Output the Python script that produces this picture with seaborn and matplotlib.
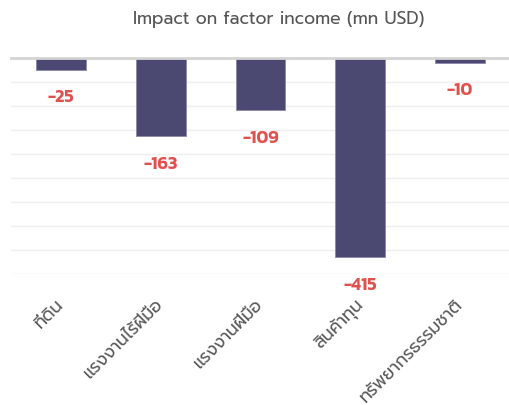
import matplotlib
matplotlib.use("Agg")
import matplotlib.pyplot as plt
import seaborn as sns
import pandas as pd

# ข้อมูล
factors = ["ที่ดิน", "แรงงานไร้ฝีมือ", "แรงงานฝีมือ", "สินค้าทุน", "ทรัพยากรธรรมชาติ"]
impact = [-25, -163, -109, -415, -10]
gridlines = [0, -50, -100, -150, -200, -250, -300, -350, -400, -450]

df = pd.DataFrame({"factor": factors, "impact": impact})

sns.set_theme(style="white")
plt.rcParams['font.family'] = ['Kanit', 'DejaVu Sans']

fig = plt.figure(figsize=(5.1, 4.05), dpi=100)
ax = fig.add_axes([11 / 510, 1 - 274 / 405, 499 / 510, 216 / 405])

sns.barplot(data=df, x="factor", y="impact", color="#4b4872", width=0.5,
            saturation=1, edgecolor="#8a88a8", linewidth=0.6, ax=ax, zorder=3)

ax.set_xlim(-0.5, 4.5)
ax.set_ylim(-450, 0)
ax.set_yticks(gridlines)
ax.set_yticklabels([])
ax.tick_params(axis="y", length=0)
ax.grid(axis="y", color="#efefef", linewidth=1, zorder=0)
ax.set_xlabel("")
ax.set_ylabel("")
for s in ["left", "right", "bottom"]:
    ax.spines[s].set_visible(False)
ax.spines["top"].set_color("#d4d4d4")
ax.spines["top"].set_linewidth(2)
ax.spines["top"].set_zorder(4)

# ป้ายค่า
for i, v in enumerate(impact):
    ax.annotate(str(v), xy=(i, v), xytext=(0, -28), textcoords="offset pixels",
                ha="center", va="center", color="#e0514d", fontsize=13,
                fontweight="semibold", annotation_clip=False)

ax.tick_params(axis="x", length=0, pad=20)
ax.set_xticks(range(len(factors)))
ax.set_xticklabels(factors, rotation=45, ha="right", va="center",
                   rotation_mode="anchor", fontsize=12.5, color="#595959",
                   family=['Prompt', 'Kanit'], fontweight="normal")

fig.text(279 / 510, 1 - 19 / 405, "Impact on factor income (mn USD)", ha="center",
         va="center", fontsize=12.5, color="#555555",
         family=['Prompt', 'Kanit'], fontweight="normal")

fig.savefig("out.png", dpi=100)
